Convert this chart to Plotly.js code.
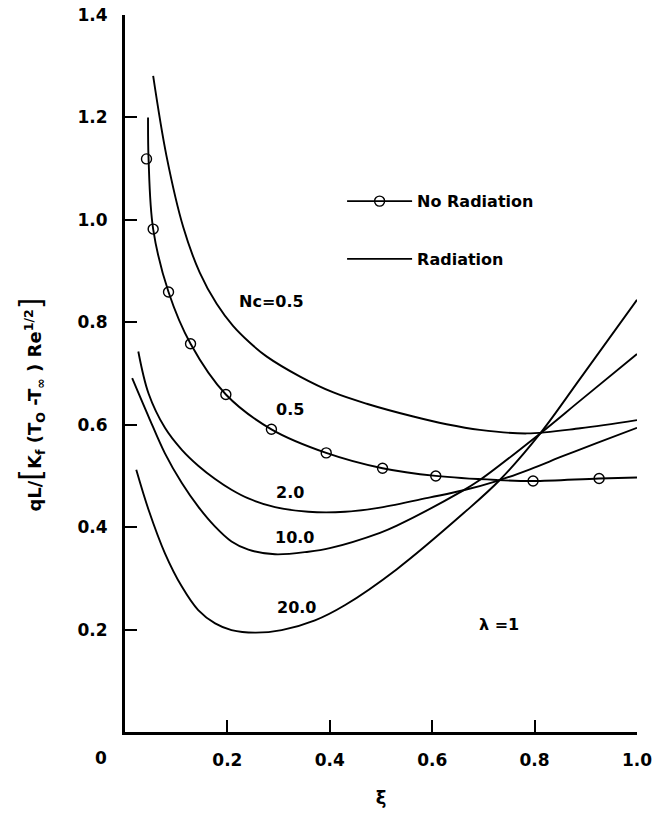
<!DOCTYPE html>
<html>
<head>
<meta charset="utf-8">
<script src="https://cdn.plot.ly/plotly-3.0.1.min.js"></script>
<style>
  html, body { margin: 0; padding: 0; background: #ffffff; }
  #chart { width: 655px; height: 818px; }
</style>
</head>
<body>
<div id="chart"></div>
<script>
// ---- data ----
// No radiation: circle markers
var noRadMarkX = [0.042, 0.055, 0.085, 0.128, 0.197, 0.286, 0.393, 0.503, 0.607, 0.797, 0.926];
var noRadMarkY = [1.119, 0.982, 0.859, 0.758, 0.659, 0.591, 0.545, 0.515, 0.500, 0.490, 0.495];
// No radiation: solid curve through the markers
var noRadLineX = [0.045, 0.046, 0.055, 0.085, 0.128, 0.197, 0.286, 0.393, 0.503, 0.607, 0.726, 0.797, 0.926, 1.0];
var noRadLineY = [1.200, 1.120, 0.982, 0.859, 0.758, 0.659, 0.591, 0.545, 0.515, 0.500, 0.492, 0.490, 0.495, 0.497];

// Radiation curves, Nc = 0.5, 2.0, 10.0, 20.0
var radNc05X = [0.055, 0.081, 0.114, 0.146, 0.179, 0.211, 0.244, 0.277, 0.342, 0.407, 0.472, 0.563, 0.628, 0.693, 0.785, 0.889, 1.0];
var radNc05Y = [1.281, 1.125, 0.985, 0.897, 0.836, 0.793, 0.760, 0.733, 0.694, 0.663, 0.641, 0.616, 0.601, 0.590, 0.583, 0.593, 0.609];

var radNc2X = [0.026, 0.046, 0.078, 0.111, 0.143, 0.176, 0.208, 0.241, 0.293, 0.358, 0.430, 0.498, 0.596, 0.661, 0.726, 0.791, 0.856, 0.921, 1.0];
var radNc2Y = [0.743, 0.661, 0.594, 0.551, 0.520, 0.494, 0.473, 0.456, 0.439, 0.430, 0.430, 0.438, 0.458, 0.472, 0.490, 0.513, 0.539, 0.564, 0.594];

var radNc10X = [0.014, 0.046, 0.078, 0.111, 0.143, 0.176, 0.208, 0.241, 0.293, 0.358, 0.400, 0.498, 0.531, 0.654, 0.693, 0.811, 0.889, 1.0];
var radNc10Y = [0.691, 0.616, 0.544, 0.486, 0.440, 0.401, 0.372, 0.356, 0.347, 0.352, 0.359, 0.389, 0.403, 0.468, 0.492, 0.583, 0.647, 0.738];

var radNc20X = [0.022, 0.046, 0.078, 0.111, 0.143, 0.176, 0.208, 0.254, 0.306, 0.371, 0.430, 0.531, 0.661, 0.732, 0.811, 0.889, 1.0];
var radNc20Y = [0.512, 0.434, 0.349, 0.284, 0.238, 0.212, 0.199, 0.194, 0.199, 0.218, 0.248, 0.318, 0.427, 0.492, 0.583, 0.690, 0.844];

// curve labels
var labelText = ["Nc=0.5", "0.5", "2.0", "10.0", "20.0", "\u03bb =1"];
var labelX    = [0.287, 0.322, 0.322, 0.331, 0.334, 0.730];
var labelY    = [0.840, 0.629, 0.468, 0.379, 0.243, 0.209];

// tick labels
var xTickVals = [0.2, 0.4, 0.6, 0.8, 1.0];
var xTickText = ["0.2", "0.4", "0.6", "0.8", "1.0"];
var yTickVals = [0.2, 0.4, 0.6, 0.8, 1.0, 1.2, 1.4];
var yTickText = ["0.2", "0.4", "0.6", "0.8", "1.0", "1.2", "1.4"];

// ---- styling ----
var FONT = "DejaVu Sans, Arial, sans-serif";
var bold = function (s) { return {family: FONT, size: s, color: "#000", weight: 700}; };
var curveLine = {color: "#000", width: 1.9, shape: "spline", smoothing: 1};

function radTrace(x, y, first) {
  return {
    x: x, y: y, type: "scatter", mode: "lines",
    line: curveLine, name: "Radiation", legendgroup: "rad",
    showlegend: !!first, hoverinfo: "skip"
  };
}

var traces = [
  {x: noRadLineX, y: noRadLineY, type: "scatter", mode: "lines", line: curveLine,
   showlegend: false, legendgroup: "nr", hoverinfo: "skip"},
  {x: noRadMarkX, y: noRadMarkY, type: "scatter", mode: "markers",
   marker: {symbol: "circle-open", size: 10, color: "#000", line: {width: 1.4, color: "#000"}},
   showlegend: false, legendgroup: "nr", hoverinfo: "skip"},
  // legend entry for the no-radiation curve (no data of its own)
  {x: [null], y: [null], type: "scatter", mode: "lines+markers", name: "No Radiation",
   legendgroup: "nr", line: {color: "#000", width: 1.9},
   marker: {symbol: "circle-open", size: 10, color: "#000", line: {width: 1.4, color: "#000"}}},
  radTrace(radNc05X, radNc05Y, true),
  radTrace(radNc2X, radNc2Y, false),
  radTrace(radNc10X, radNc10Y, false),
  radTrace(radNc20X, radNc20Y, false)
];

var annotations = labelText.map(function (t, i) {
  return {x: labelX[i], y: labelY[i], xref: "x", yref: "y", text: t,
          showarrow: false, font: bold(16), xanchor: "center", yanchor: "middle"};
});
// corner "0" label shared by both axes
annotations.push({x: -0.047, y: -0.036, xref: "paper", yref: "paper", text: "0",
                  showarrow: false, font: bold(17), xanchor: "center", yanchor: "middle"});
// y-axis title
annotations.push({
  x: -0.185, y: 0.457, xref: "paper", yref: "paper", textangle: -90,
  text: 'qL/<span style="font-size:30px;font-weight:normal">[</span>K<sub>f</sub> (T<sub>O</sub> -T<sub>\u221e</sub> ) Re<sup>1/2</sup><span style="font-size:30px;font-weight:normal">]</span>',
  showarrow: false, font: bold(18), xanchor: "center", yanchor: "middle"
});

var axisCommon = {
  showgrid: false, zeroline: false, showline: true, linecolor: "#000", linewidth: 3,
  ticks: "inside", ticklen: 12, tickwidth: 2, tickcolor: "#000",
  tickfont: bold(17), tickmode: "array", ticklabelstandoff: 11, fixedrange: true
};

var layout = {
  width: 655, height: 818,
  margin: {l: 125, r: 18, t: 15, b: 86, pad: 0},
  paper_bgcolor: "#fff", plot_bgcolor: "#fff",
  showlegend: true,
  legend: {
    x: 0.424, y: 0.764, xanchor: "left", yanchor: "top",
    bgcolor: "rgba(0,0,0,0)", borderwidth: 0,
    font: bold(16), itemwidth: 65, traceorder: "grouped", tracegroupgap: 34
  },
  xaxis: Object.assign({}, axisCommon, {
    range: [0, 1.0], tickvals: xTickVals, ticktext: xTickText,
    title: {text: "\u03be", font: bold(18), standoff: 22}, automargin: false
  }),
  yaxis: Object.assign({}, axisCommon, {
    range: [0, 1.4], tickvals: yTickVals, ticktext: yTickText
  }),
  annotations: annotations
};

Plotly.newPlot("chart", traces, layout, {displayModeBar: false, staticPlot: true});
</script>
</body>
</html>
